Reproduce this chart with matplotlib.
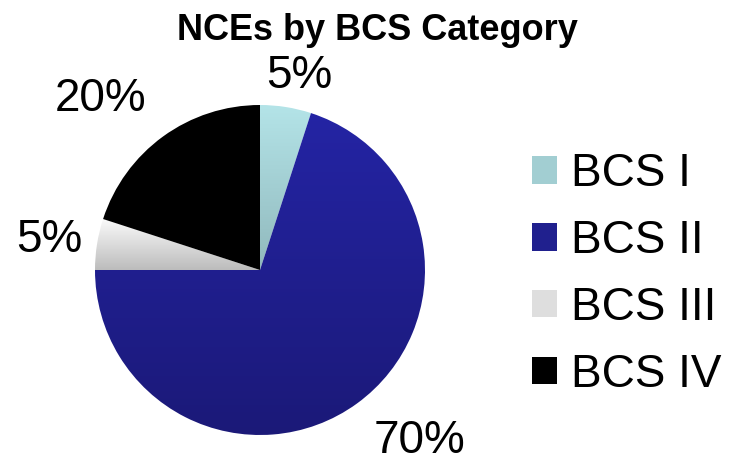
import numpy as np
import matplotlib.pyplot as plt
from matplotlib.colors import LinearSegmentedColormap
from matplotlib.patches import Patch

plt.rcParams['font.family'] = ['Liberation Sans', 'DejaVu Sans']

# data
categories = ['BCS I', 'BCS II', 'BCS III', 'BCS IV']
shares = [5, 70, 5, 20]
pct_labels = ['5%', '70%', '5%', '20%']
# gradient (top, bottom) for each slice
grad_top = ['#b4e4e8', '#2424a4', '#fafafa', '#000000']
grad_bottom = ['#90b8bc', '#1b1978', '#bcbcbc', '#000000']
legend_colors = ['#a2ced2', '#20208e', '#dedede', '#000000']
# label offsets (angle shift deg, distance) from wedge mid-angle
label_shift = [(-2.5, 1.2), (7, 1.42), (1, 1.29), (7, 1.42)]

W, H = 729, 466
fig = plt.figure(figsize=(W / 100, H / 100), dpi=100)
cx, cy, r = 260, 270, 165
ax = fig.add_axes([(cx - r) / W, (H - cy - r) / H, 2 * r / W, 2 * r / H])
ax.set_xlim(-1, 1)
ax.set_ylim(-1, 1)
ax.set_aspect('equal')
ax.axis('off')

wedges, _ = ax.pie(shares, startangle=90, counterclock=False, radius=1,
                   wedgeprops=dict(linewidth=0))

for i, w in enumerate(wedges):
    w.set_facecolor('none')
    w.set_edgecolor('none')
    bb = w.get_path().get_extents(w.get_patch_transform())
    cmap = LinearSegmentedColormap.from_list('g%d' % i, [grad_bottom[i], grad_top[i]])
    grad = np.linspace(0, 1, 256).reshape(-1, 1)
    im = ax.imshow(grad, cmap=cmap, origin='lower', aspect='auto',
                   extent=[bb.x0, bb.x1, bb.y0, bb.y1], zorder=1)
    im.set_clip_path(w)
    mid = np.deg2rad((w.theta1 + w.theta2) / 2 + label_shift[i][0])
    d = label_shift[i][1]
    ax.text(d * np.cos(mid), d * np.sin(mid), pct_labels[i], fontsize=33,
            ha='center', va='center', color='black')

ax.set_xlim(-1, 1)
ax.set_ylim(-1, 1)

fig.text(377 / W, 1 - 30 / H, 'NCEs by BCS Category', fontsize=26,
         fontweight='bold', ha='center', va='center')

handles = [Patch(facecolor=c, edgecolor='none') for c in legend_colors]
fig.legend(handles, categories, loc='upper left', bbox_to_anchor=(532 / W, 1 - 152 / H),
           frameon=False, fontsize=33, handlelength=0.55, handleheight=0.55,
           handletextpad=0.3, labelspacing=0.5, borderpad=0, borderaxespad=0)

fig.savefig('out.png', dpi=100)
